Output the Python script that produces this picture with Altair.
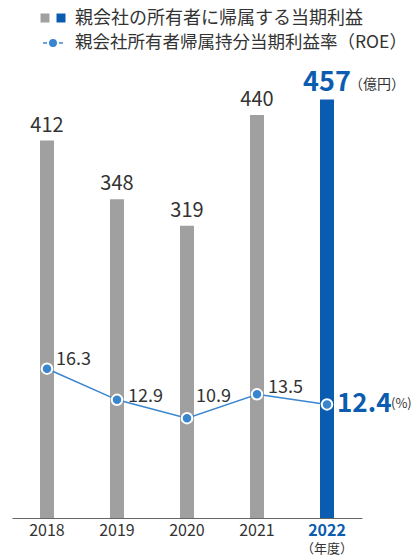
import altair as alt
import pandas as pd

years = ["2018", "2019", "2020", "2021", "2022"]
profit = [412, 348, 319, 440, 457]
roe = [16.3, 12.9, 10.9, 13.5, 12.4]

legend_profit = "親会社の所有者に帰属する当期利益"
legend_roe = "親会社所有者帰属持分当期利益率（ROE）"
unit_profit = "（億円）"
unit_roe = "(%)"
unit_year = "（年度）"

GRAY = "#a0a0a0"
BLUE = "#0a5cb0"
LINE = "#3a85d0"
TXT = "#333333"
FONT = "Noto Sans CJK JP"

df = pd.DataFrame({"year": years, "profit": profit, "roe": roe})
base = alt.Chart(df)

is_hl = alt.datum.year == "2022"
x = alt.X(
    "year:N", sort=years,
    scale=alt.Scale(paddingInner=0.8, paddingOuter=0.4),
    axis=alt.Axis(
        title=None, ticks=False, labelAngle=0, labelFontSize=16, labelFont=FONT,
        labelColor=alt.expr(f"datum.value == '2022' ? '{BLUE}' : '{TXT}'"),
        labelFontWeight=alt.expr("datum.value == '2022' ? 'bold' : 'normal'"),
        domainColor="#666666", labelPadding=4, grid=False,
    ),
)
yb = alt.Y("profit:Q", scale=alt.Scale(domain=[0, 500]), axis=None)
yr = alt.Y("roe:Q", scale=alt.Scale(domain=[0, 50]), axis=None)

bars = base.mark_bar().encode(
    x=x, y=yb,
    color=alt.condition(is_hl, alt.value(BLUE), alt.value(GRAY)),
)
bar_lbl = base.transform_filter(~is_hl).mark_text(
    baseline="alphabetic", dy=-9, fontSize=20, font=FONT, color=TXT
).encode(x=x, y=yb, text="profit:Q")
bar_lbl_hl = base.transform_filter(is_hl).mark_text(
    baseline="alphabetic", dy=-8, fontSize=27, fontWeight="bold", font=FONT, color=BLUE
).encode(x=x, y=yb, text="profit:Q")
bar_unit = base.transform_filter(is_hl).mark_text(
    baseline="alphabetic", align="left", dx=22, dy=-10, fontSize=14, font=FONT, color=TXT
).encode(x=x, y=yb, text=alt.value(unit_profit))

bar_layer = alt.layer(bars, bar_lbl, bar_lbl_hl, bar_unit)

line = base.mark_line(color=LINE, strokeWidth=1.5).encode(x=x, y=yr)
pts = base.mark_point(filled=True, size=110, color=LINE, stroke="white",
                      strokeWidth=2, opacity=1).encode(x=x, y=yr)

offsets = {"2018": (9, -4), "2019": (11, 2), "2020": (9, -16), "2021": (11, -1)}
roe_lbls = []
for yv, (dx, dy) in offsets.items():
    roe_lbls.append(
        base.transform_filter(alt.datum.year == yv).mark_text(
            align="left", baseline="alphabetic", dx=dx, dy=dy, fontSize=18, font=FONT, color=TXT
        ).encode(x=x, y=yr, text=alt.Text("roe:Q", format=".1f"))
    )
roe_hl = base.transform_filter(is_hl).mark_text(
    align="left", baseline="alphabetic", dx=10, dy=8, fontSize=26, fontWeight="bold",
    font=FONT, color=BLUE
).encode(x=x, y=yr, text=alt.Text("roe:Q", format=".1f"))
roe_unit = base.transform_filter(is_hl).mark_text(
    align="left", baseline="middle", dx=64, dy=0, fontSize=13, font=FONT, color=TXT
).encode(x=x, y=yr, text=alt.value(unit_roe))

year_unit = base.transform_filter(is_hl).mark_text(
    baseline="middle", fontSize=13, font=FONT, color=TXT
).encode(x=x, y=alt.value(489), text=alt.value(unit_year))

roe_layer = alt.layer(line, pts, *roe_lbls, roe_hl, roe_unit, year_unit)

# legend (decoration)
leg = alt.Chart(pd.DataFrame({"k": [0]}))
leg_sq1 = leg.mark_square(size=81, color=GRAY, opacity=1).encode(x=alt.value(33), y=alt.value(-42))
leg_sq2 = leg.mark_square(size=81, color=BLUE, opacity=1).encode(x=alt.value(49), y=alt.value(-42))
leg_t1 = leg.mark_text(align="left", baseline="middle", fontSize=18, font=FONT, color=TXT).encode(
    x=alt.value(63), y=alt.value(-41), text=alt.value(legend_profit))
leg_r1 = leg.mark_rule(color=LINE, strokeWidth=1.5).encode(x=alt.value(31), x2=alt.value(35), y=alt.value(-17))
leg_r2 = leg.mark_rule(color=LINE, strokeWidth=1.5).encode(x=alt.value(47), x2=alt.value(51), y=alt.value(-17))
leg_pt = leg.mark_point(filled=True, size=90, color=LINE, stroke="white", strokeWidth=1.5, opacity=1).encode(
    x=alt.value(41), y=alt.value(-17))
leg_t2 = leg.mark_text(align="left", baseline="middle", fontSize=17.5, font=FONT, color=TXT).encode(
    x=alt.value(63), y=alt.value(-17), text=alt.value(legend_roe))

chart = alt.layer(
    bar_layer, roe_layer, leg_sq1, leg_sq2, leg_t1, leg_r1, leg_r2, leg_pt, leg_t2
).resolve_scale(y="independent").properties(
    width=350, height=458,
    autosize=alt.AutoSizeParams(type="none"),
    padding={"left": 4, "top": 52, "right": 49, "bottom": 37},
).configure_view(stroke=None)

chart.save("out.html", embed_options={"renderer": "svg", "actions": False})
